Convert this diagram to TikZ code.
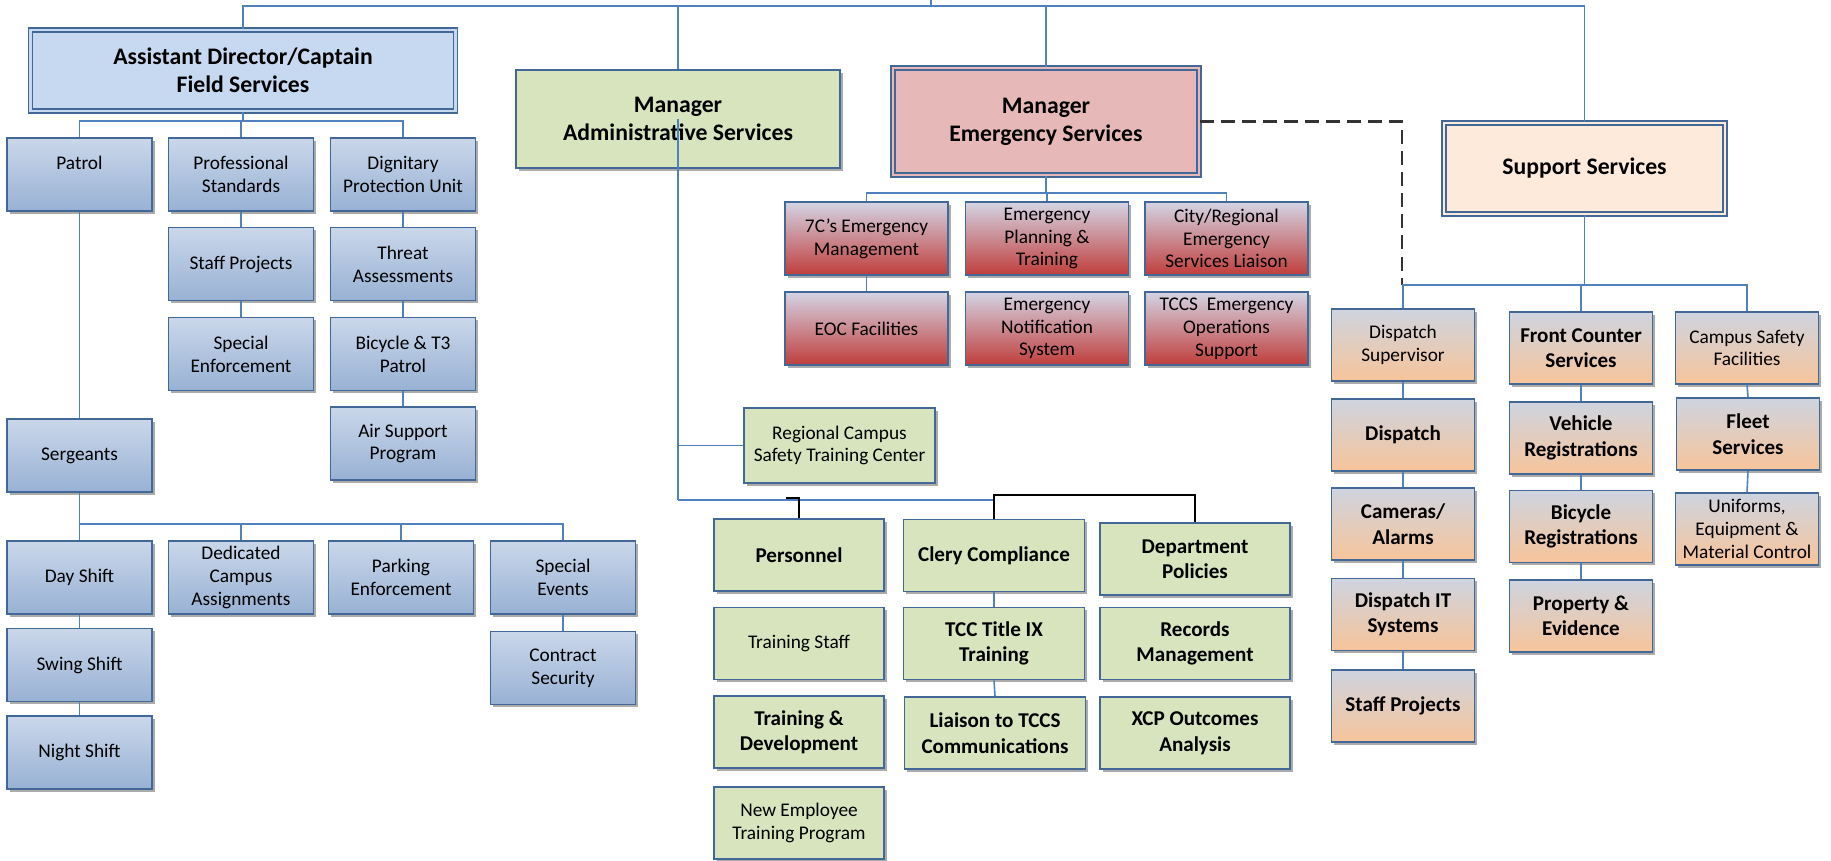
\documentclass[tikz,border=0pt]{standalone}
\usepackage{fontspec}
\setmainfont{Carlito}
\usetikzlibrary{shadows}

\definecolor{linkblue}{RGB}{79,129,189}
\definecolor{boxline}{RGB}{66,104,152}
\definecolor{fieldhead}{RGB}{198,217,241}
\definecolor{fieldtop}{RGB}{202,215,234}
\definecolor{fieldbot}{RGB}{152,177,212}
\definecolor{admingreen}{RGB}{215,228,189}
\definecolor{emhead}{RGB}{230,185,184}
\definecolor{emtop}{RGB}{212,212,228}
\definecolor{embot}{RGB}{192,62,60}
\definecolor{suphead}{RGB}{253,234,218}
\definecolor{suptop}{RGB}{206,212,224}
\definecolor{supbot}{RGB}{247,196,154}

\begin{document}
\begin{tikzpicture}[x=0.02cm, y=-0.02cm,
    link/.style={draw=linkblue, line width=0.9pt},
    blkline/.style={draw=black, line width=0.7pt},
    box/.style={draw=boxline, line width=1pt, inner sep=1pt, align=center,
      font=\fontsize{11}{13}\selectfont,
      drop shadow={shadow xshift=1.5pt, shadow yshift=-1.5pt, fill=black!55, opacity=.6}},
    boldtxt/.style={font=\fontsize{12}{14.5}\selectfont\bfseries},
    headbox/.style={box, double distance=1.4pt, line width=0.8pt,
      font=\fontsize{13.5}{16}\selectfont\bfseries},
    fieldbox/.style={box, top color=fieldtop, bottom color=fieldbot,
      minimum width=2.9cm, minimum height=1.46cm},
    adminbox/.style={box, fill=admingreen, minimum height=1.44cm},
    embox/.style={box, top color=emtop, bottom color=embot,
      minimum width=3.26cm, minimum height=1.46cm},
    supbox/.style={box, top color=suptop, bottom color=supbot,
      minimum width=2.86cm, minimum height=1.44cm}]
    \useasboundingbox (0,0) rectangle (1831,861);

    % Field services
    \node[headbox, fill=fieldhead, double=fieldhead, minimum width=8.5cm, minimum height=1.62cm] (ad) at (243,70.5) {Assistant Director/Captain\\Field Services};
    \node[fieldbox] (patrol) at (79.5,174.5) {Patrol\\~};
    \node[fieldbox] (profstd) at (241,174.5) {Professional\\Standards};
    \node[fieldbox] (dignit) at (403,174.5) {Dignitary\\Protection Unit};
    \node[fieldbox] (staffproj) at (241,264) {Staff Projects};
    \node[fieldbox] (threat) at (403,264) {Threat\\Assessments};
    \node[fieldbox] (specenf) at (241,354) {Special\\Enforcement};
    \node[fieldbox] (bicycle) at (403,354) {Bicycle \& T3\\Patrol};
    \node[fieldbox] (airsup) at (403,443.5) {Air Support\\Program};
    \node[fieldbox] (sergeants) at (79.5,455.5) {Sergeants};
    \node[fieldbox] (dayshift) at (79.5,577.5) {Day Shift};
    \node[fieldbox] (dedicated) at (241,577.5) {Dedicated\\Campus\\Assignments};
    \node[fieldbox] (parking) at (401,577.5) {Parking\\Enforcement};
    \node[fieldbox] (specevents) at (563,577.5) {Special\\Events};
    \node[fieldbox] (contract) at (563,668) {Contract\\Security};
    \node[fieldbox] (swing) at (79.5,665) {Swing Shift};
    \node[fieldbox] (night) at (79.5,752.5) {Night Shift};

    % Administrative services
    \node[adminbox, minimum width=6.48cm, minimum height=1.96cm, font=\fontsize{13.5}{16}\selectfont\bfseries] (admin) at (678,119) {Manager\\Administrative Services};
    \node[adminbox, minimum width=3.82cm, minimum height=1.5cm] (regional) at (839.5,445.5) {Regional Campus\\Safety Training Center};
    \node[adminbox, boldtxt, minimum width=3.4cm] (personnel) at (799,555) {Personnel};
    \node[adminbox, boldtxt, minimum width=3.62cm] (clery) at (994,555.5) {Clery Compliance};
    \node[adminbox, boldtxt, minimum width=3.8cm] (dept) at (1195,559) {Department\\Policies};
    \node[adminbox, minimum width=3.4cm] (trainstaff) at (799,643.5) {Training Staff};
    \node[adminbox, boldtxt, minimum width=3.62cm] (titleix) at (994,643.5) {TCC Title IX\\Training};
    \node[adminbox, boldtxt, minimum width=3.8cm] (records) at (1195,643.5) {Records\\Management};
    \node[adminbox, boldtxt, minimum width=3.4cm] (traindev) at (799,732) {Training \&\\Development};
    \node[adminbox, boldtxt, minimum width=3.62cm] (liaison) at (995,733) {Liaison to TCCS\\Communications};
    \node[adminbox, boldtxt, minimum width=3.8cm] (xcp) at (1195,733) {XCP Outcomes\\Analysis};
    \node[adminbox, minimum width=3.4cm] (newemp) at (799,823) {New Employee\\Training Program};

    % Emergency services
    \node[headbox, fill=emhead, double=emhead, minimum width=6.12cm, minimum height=2.14cm] (em) at (1046,121.5) {Manager\\Emergency Services};
    \node[embox] (e7c) at (866.5,238.5) {7C's Emergency\\Management};
    \node[embox] (eplan) at (1047,238.5) {Emergency\\Planning \&\\Training};
    \node[embox] (ecity) at (1226.5,238.5) {City/Regional\\Emergency\\Services Liaison};
    \node[embox] (eoc) at (866.5,328.5) {EOC Facilities};
    \node[embox] (enotif) at (1047,328.5) {Emergency\\Notification\\System};
    \node[embox] (etccs) at (1226.5,328.5) {TCCS~~Emergency\\Operations\\Support};

    % Support services
    \node[headbox, fill=suphead, double=suphead, minimum width=5.62cm, minimum height=1.82cm] (sup) at (1584.5,168.5) {Support Services};
    \node[supbox] (dsup) at (1403,345) {Dispatch\\Supervisor};
    \node[supbox, boldtxt] (front) at (1581,348) {Front Counter\\Services};
    \node[supbox] (csf) at (1747,348) {Campus Safety\\Facilities};
    \node[supbox, boldtxt] (dispatch) at (1403,435) {Dispatch};
    \node[supbox, boldtxt] (cameras) at (1403,524) {Cameras/\\Alarms};
    \node[supbox, boldtxt] (dispit) at (1403,614.5) {Dispatch IT\\Systems};
    \node[supbox, boldtxt] (sstaff) at (1403,706) {Staff Projects};
    \node[supbox, boldtxt] (vehicle) at (1581,438) {Vehicle\\Registrations};
    \node[supbox, boldtxt] (bikereg) at (1581,526.5) {Bicycle\\Registrations};
    \node[supbox, boldtxt] (property) at (1581,616) {Property \&\\Evidence};
    \node[supbox, boldtxt] (fleet) at (1748,434) {Fleet\\Services};
    \node[supbox] (uniforms) at (1747,529) {Uniforms,\\Equipment \&\\Material Control};

    % Top level lines
    \coordinate (top) at (931,0);
    \coordinate (topbus) at (931,6);
    \draw[link] (top) -- (topbus);
    \draw[link] (ad.north) |- (topbus);
    \draw[link] (admin.north) |- (topbus);
    \draw[link] (em.north) |- (topbus);
    \draw[link] (sup.north) |- (topbus);

    % Field lines
    \coordinate (adbus) at (243,121);
    \draw[link] (ad.south) -- (adbus);
    \draw[link] (patrol.north) |- (adbus);
    \draw[link] (profstd.north) |- (adbus);
    \draw[link] (dignit.north) |- (adbus);
    \draw[link] (profstd.south) -- (staffproj.north);
    \draw[link] (staffproj.south) -- (specenf.north);
    \draw[link] (dignit.south) -- (threat.north);
    \draw[link] (threat.south) -- (bicycle.north);
    \draw[link] (bicycle.south) -- (airsup.north);
    \draw[link] (patrol.south) -- (sergeants.north);
    \coordinate (sgtbus) at (79.5,524);
    \draw[link] (sergeants.south) -- (dayshift.north);
    \draw[link] (dedicated.north) |- (sgtbus);
    \draw[link] (parking.north) |- (sgtbus);
    \draw[link] (specevents.north) |- (sgtbus);
    \draw[link] (dayshift.south) -- (swing.north);
    \draw[link] (swing.south) -- (night.north);
    \draw[link] (specevents.south) -- (contract.north);

    % Admin lines
    \coordinate (adminbus) at (678,500);
    \draw[link] (admin.center) -- (adminbus);
    \draw[link] (regional.west) -- (regional.west -| adminbus);
    \draw[link] (adminbus) -- (adminbus -| clery.north);
    \coordinate (clerybus) at (994,495);
    \coordinate (perstub) at (786,498);
    \draw[blkline] (clery.north) |- (dept.north |- clerybus) -- (dept.north);
    \draw[blkline] (personnel.north) |- (perstub);
    \draw[link] (clery.south) -- (titleix.north);
    \draw[link] (titleix.south) -- (liaison.north);

    % Emergency lines
    \coordinate (embus) at (1046,193);
    \draw[link] (em.south) -- (embus);
    \draw[link] (e7c.north) |- (embus);
    \draw[link] (eplan.north) |- (embus);
    \draw[link] (ecity.north) |- (embus);
    \draw[link] (e7c.south) -- (eoc.north);

    % Support lines
    \coordinate (supbus) at (1402,285);
    \draw[black!80, line width=1.2pt, dash pattern=on 8pt off 4pt] (em.east) -| (supbus);
    \draw[link] (sup.south) |- (supbus);
    \draw[link] (csf.north) |- (supbus);
    \draw[link] (front.north) |- (supbus);
    \draw[link] (dsup.north) |- (supbus);
    \draw[link] (dsup.south) -- (dispatch.north);
    \draw[link] (dispatch.south) -- (cameras.north);
    \draw[link] (cameras.south) -- (dispit.north);
    \draw[link] (dispit.south) -- (sstaff.north);
    \draw[link] (front.south) -- (vehicle.north);
    \draw[link] (vehicle.south) -- (bikereg.north);
    \draw[link] (bikereg.south) -- (property.north);
    \draw[link] (csf.south) -- (fleet.north);
    \draw[link] (fleet.south) -- (uniforms.north);
\end{tikzpicture}
\end{document}
